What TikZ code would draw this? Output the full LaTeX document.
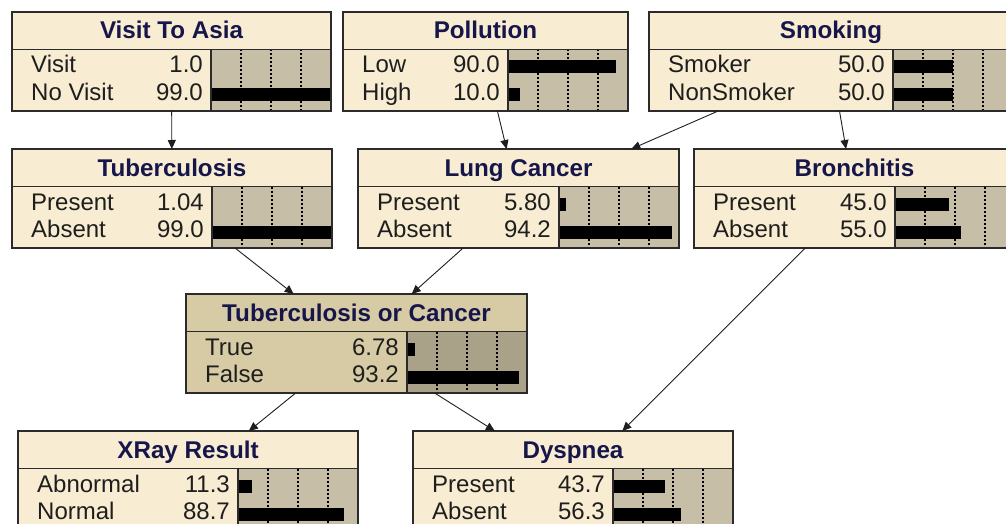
\documentclass[tikz,border=0pt]{standalone}
\usepackage{fontspec}
\setmainfont{Liberation Sans}
\usetikzlibrary{calc,arrows.meta}

\definecolor{ltHead}{HTML}{F8EDD2}
\definecolor{ltBody}{HTML}{F8EDD2}
\definecolor{ltBar}{HTML}{C6BEA7}
\definecolor{dkHead}{HTML}{D6CBA4}
\definecolor{dkBody}{HTML}{D6CBA4}
\definecolor{dkBar}{HTML}{AAA288}
\definecolor{titleInk}{HTML}{16164A}
\definecolor{ink}{HTML}{1E1E1E}
\definecolor{frameInk}{HTML}{2B2B2B}

\tikzset{
  netbox/.style={rectangle, inner sep=0pt, outer sep=0pt, minimum height=99pt, anchor=north west},
  frame/.style={draw=frameInk, line width=1.6pt},
  sep/.style={draw=frameInk, line width=1.2pt},
  gridline/.style={draw=black, line width=1.1pt, dash pattern=on 2pt off 2pt},
  barfill/.style={fill=black},
  ttl/.style={font=\bfseries\fontsize{24.2}{25}\selectfont, text=titleInk, anchor=base, inner sep=0pt},
  lbl/.style={font=\fontsize{24}{24}\selectfont, text=ink, anchor=base west, inner sep=0pt},
  val/.style={font=\fontsize{24}{24}\selectfont, text=ink, anchor=base east, inner sep=0pt},
  arr/.style={draw=ink, line width=0.9pt, -{Triangle[length=9pt,width=8pt]}},
}

% Belief-bar box: #1 name, #2 left, #3 top, #4 width of the label column,
% #5 title, #6 colour set (lt or dk). The bar column is always 120 wide.
\newcommand{\netnode}[6]{%
  \node[netbox, minimum width={#4+120}, fill=#6Body] (#1) at (#2,#3) {};
  \coordinate (#1-d) at ({#2+#4},#3);
  \fill[#6Head] (#2,#3) rectangle ({#2+#4+120},{#3+37.5});
  \fill[#6Bar] ({#2+#4},{#3+37.5}) rectangle ({#2+#4+120},{#3+99});
  \foreach \k in {30,60,90}
    \draw[gridline] ({#2+#4+\k},{#3+37.5}) -- ({#2+#4+\k},{#3+99});
  \node[ttl] (#1-t) at ({#2+(#4+120)/2},{#3+27}) {#5};
}

% Two states of a box: #1 name, then label, value, percent for each state
\newcommand{\netrows}[7]{%
  \fill[barfill] ($(#1-d)+(0,48.5)$) rectangle ($(#1-d)+({1.2*#4},61.5)$);
  \fill[barfill] ($(#1-d)+(0,76.5)$) rectangle ($(#1-d)+({1.2*#7},89.5)$);
  \node[lbl] (#1-l1) at ($(#1.north west)+(19,61)$) {#2};
  \node[val] (#1-v1) at ($(#1-d)+(-8,61)$) {#3};
  \node[lbl] (#1-l2) at ($(#1.north west)+(19,88.5)$) {#5};
  \node[val] (#1-v2) at ($(#1-d)+(-8,88.5)$) {#6};
  \draw[sep] ($(#1.north west)+(0,37.5)$) -- ($(#1.north east)+(0,37.5)$);
  \draw[sep] ($(#1-d)+(0,37.5)$) -- ($(#1-d)+(0,99)$);
  \draw[frame] (#1.north west) rectangle (#1.south east);
}

\begin{document}
\begin{tikzpicture}[x=1pt, y=-1pt]
  \useasboundingbox (0,0) rectangle (1006,524);
  \clip (0,0) rectangle (1006,524);
  \fill[white] (0,0) rectangle (1006,524);

  \netnode{asia}{12}{12}{199}{Visit To Asia}{lt}
  \netrows{asia}{Visit}{1.0}{1.0}{No Visit}{99.0}{99.0}

  \netnode{poll}{343}{12}{165}{Pollution}{lt}
  \netrows{poll}{Low}{90.0}{90.0}{High}{10.0}{10.0}

  \netnode{smok}{649}{12}{244}{Smoking}{lt}
  \netrows{smok}{Smoker}{50.0}{50.0}{NonSmoker}{50.0}{50.0}

  \netnode{tub}{12}{149}{200}{Tuberculosis}{lt}
  \netrows{tub}{Present}{1.04}{1.04}{Absent}{99.0}{99.0}

  \netnode{lung}{358}{149}{201}{Lung Cancer}{lt}
  \netrows{lung}{Present}{5.80}{5.80}{Absent}{94.2}{94.2}

  \netnode{bron}{694}{149}{201}{Bronchitis}{lt}
  \netrows{bron}{Present}{45.0}{45.0}{Absent}{55.0}{55.0}

  \netnode{torc}{186}{294}{221}{Tuberculosis or Cancer}{dk}
  \netrows{torc}{True}{6.78}{6.78}{False}{93.2}{93.2}

  \netnode{xray}{18}{431}{220}{XRay Result}{lt}
  \netrows{xray}{Abnormal}{11.3}{11.3}{Normal}{88.7}{88.7}

  \netnode{dysp}{413}{431}{200}{Dyspnea}{lt}
  \netrows{dysp}{Present}{43.7}{43.7}{Absent}{56.3}{56.3}

  % causal links
  \draw[arr] (asia) -- (tub);
  \draw[arr] (poll) -- (lung);
  \draw[arr] (smok) -- (lung);
  \draw[arr] (smok) -- (bron);
  \draw[arr] (tub) -- (torc);
  \draw[arr] (lung) -- (torc);
  \draw[arr] (torc) -- (xray);
  \draw[arr] (torc) -- (dysp);
  \draw[arr] (bron) -- (dysp);
\end{tikzpicture}
\end{document}
